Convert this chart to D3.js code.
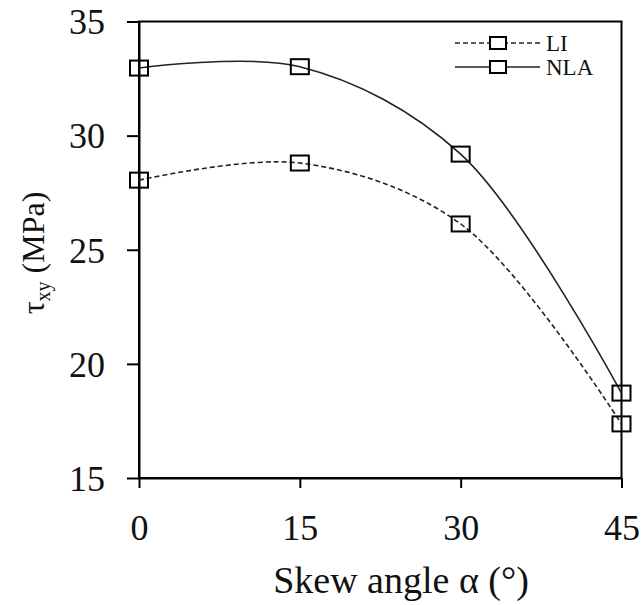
<!DOCTYPE html>
<html><head><meta charset="utf-8">
<script src="https://cdn.jsdelivr.net/npm/d3@7"></script>
</head><body>
<script>
const angles = [0, 15, 30, 45];
const liValues = [28.05, 28.8, 26.13, 17.37];
const nlaValues = [32.96, 33.02, 29.19, 18.72];
const xTicks = [0, 15, 30, 45];
const yTicks = [15, 20, 25, 30, 35];
const seriesNames = ["LI", "NLA"];

const W = 644, H = 605;
const FONT = '"Liberation Serif", monospace';
d3.select("body").style("margin", "0px").style("background", "#fff");
const m = {left: 139, right: 644 - 621.5, top: 21.5, bottom: 605 - 478};
const svg = d3.select("body").append("svg").attr("width", W).attr("height", H)
  .style("display", "block").style("font-family", FONT);
const x = d3.scaleLinear().domain([0, 45]).range([m.left, W - m.right]);
const y = d3.scaleLinear().domain([15, 35]).range([H - m.bottom, m.top]);

// frame
svg.append("rect").attr("x", x(0)).attr("y", y(35)).attr("width", x(45) - x(0)).attr("height", y(15) - y(35))
  .attr("fill", "none").attr("stroke", "#000").attr("stroke-width", 2);

// axes
const xAxis = svg.append("g").attr("transform", `translate(0,${y(15)})`)
  .call(d3.axisBottom(x).tickValues(xTicks).tickSize(10).tickPadding(26).tickSizeOuter(0));
const yAxis = svg.append("g").attr("transform", `translate(${x(0)},0)`)
  .call(d3.axisLeft(y).tickValues(yTicks).tickSize(12).tickPadding(22).tickSizeOuter(0));
[xAxis, yAxis].forEach(g => {
  g.attr("font-family", null).attr("font-size", null);
  g.select(".domain").attr("stroke", "#000").attr("stroke-width", 2);
  g.selectAll(".tick line").attr("stroke", "#000").attr("stroke-width", 2);
  g.selectAll(".tick text").attr("fill", "#111").attr("font-size", 36).style("font-family", FONT);
});
yAxis.selectAll(".tick text").attr("dy", "0.34em");

// lines
const line = d3.line().x((d, i) => x(angles[i])).y(d => y(d)).curve(d3.curveCatmullRom.alpha(0.5));
svg.append("path").datum(liValues).attr("d", line).attr("fill", "none").attr("stroke", "#222")
  .attr("stroke-width", 1.6).attr("stroke-dasharray", "5,3");
svg.append("path").datum(nlaValues).attr("d", line).attr("fill", "none").attr("stroke", "#222")
  .attr("stroke-width", 1.6);

// markers
const mw = 18, mh = 15;
[liValues, nlaValues].forEach(vals => {
  svg.append("g").selectAll("rect").data(vals).join("rect")
    .attr("x", (d, i) => x(angles[i]) - mw / 2).attr("y", d => y(d) - mh / 2)
    .attr("width", mw).attr("height", mh)
    .attr("fill", "none").attr("stroke", "#000").attr("stroke-width", 2);
});

// legend
const lg = svg.append("g");
seriesNames.forEach((name, i) => {
  const ly = 43 + i * 24;
  lg.append("line").attr("x1", 455).attr("x2", 540).attr("y1", ly).attr("y2", ly)
    .attr("stroke", "#222").attr("stroke-width", 1.6).attr("stroke-dasharray", i === 0 ? "5,3" : null);
  lg.append("rect").attr("x", 498 - 8).attr("y", ly - 6).attr("width", 16).attr("height", 12)
    .attr("fill", "#fff").attr("stroke", "#000").attr("stroke-width", 2);
  lg.append("text").attr("x", 546).attr("y", ly + 8)
    .attr("font-size", 23).style("font-family", FONT).attr("fill", "#111").text(name);
});

// axis titles
svg.append("text").attr("x", 401).attr("y", 593).attr("text-anchor", "middle")
  .attr("font-size", 38).style("font-family", FONT).attr("fill", "#111").text("Skew angle α (°)");
const yt = svg.append("text").attr("transform", "translate(44,253) rotate(-90)").attr("text-anchor", "middle")
  .attr("font-size", 32).style("font-family", FONT).attr("fill", "#111");
yt.append("tspan").text("τ");
yt.append("tspan").attr("font-size", 20).attr("dy", 6).text("xy");
yt.append("tspan").attr("dy", -6).text(" (MPa)");
</script>
</body></html>
